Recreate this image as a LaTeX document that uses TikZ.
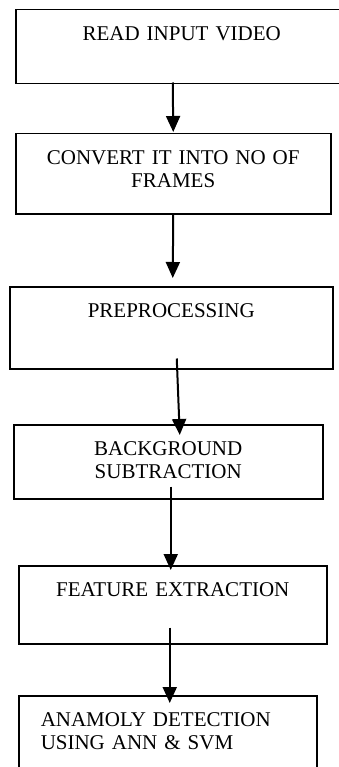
\documentclass[tikz,border=0pt]{standalone}
\usepackage{fontspec}
\setmainfont{Liberation Serif}
\usetikzlibrary{arrows.meta}

\tikzset{
  stage/.style={draw, line width=1.5pt, inner sep=0pt, anchor=north west,
    align=center, text height=30.5pt,
    font=\fontsize{21}{23}\selectfont},
  flow/.style={line width=2pt, -{Triangle[width=14pt,length=16pt]}}
}

\begin{document}
\begin{tikzpicture}[x=1pt,y=1pt,yscale=-1,xscale=1]
\useasboundingbox (0,0) rectangle (338,767);

%Boxes
\node[stage, text width=332pt, text depth=43.5pt] (read) at (15,9) {READ INPUT VIDEO};
\node[stage, text width=315pt, text depth=49.5pt] (frames) at (15,133) {CONVERT IT INTO NO OF\\FRAMES};
\node[stage, text width=323pt, text depth=51.5pt] (prep) at (9,286) {PREPROCESSING};
\node[stage, text width=309pt, text depth=43.5pt] (bgsub) at (13,424) {BACKGROUND\\SUBTRACTION};
\node[stage, text width=308pt, text depth=47.5pt] (feat) at (18,565) {FEATURE EXTRACTION};
\node[stage, align=left, inner xsep=22pt, text width=254pt, text depth=49.5pt] (detect) at (18,695) {ANAMOLY DETECTION\\USING ANN \& SVM};

%Arrows
\draw[flow] ([xshift=-9pt,yshift=-2pt]read.south) -- ([yshift=-1pt]frames.north);
\draw[flow] ([yshift=-1pt]frames.south) -- ([xshift=1.5pt,yshift=-8pt]prep.north);
\draw[flow] ([xshift=5.5pt,yshift=-11pt]prep.south) -- ([xshift=11.5pt,yshift=11pt]bgsub.north);
\draw[flow] ([xshift=2.5pt,yshift=-13pt]bgsub.south) -- ([xshift=-2pt,yshift=5pt]feat.north);
\draw[flow] ([xshift=-3pt,yshift=-17pt]feat.south) -- ([xshift=2pt,yshift=8pt]detect.north);

\end{tikzpicture}
\end{document}
